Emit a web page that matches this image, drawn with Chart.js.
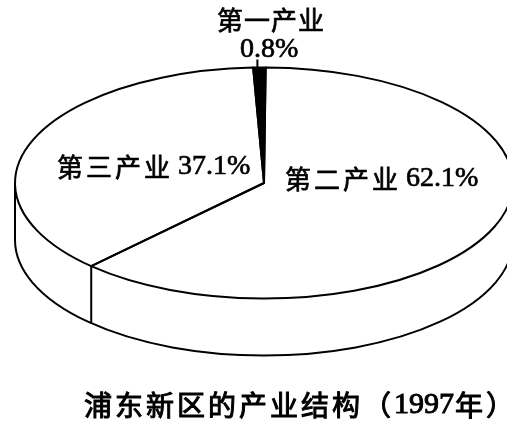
<!DOCTYPE html>
<html>
<head>
<meta charset="utf-8">
<script src="https://cdn.jsdelivr.net/npm/chart.js@4.4.1/dist/chart.umd.min.js"></script>
<style>
  html, body { margin: 0; background: #fff; }
  #wrap { width: 507px; height: 429px; }
</style>
</head>
<body>
<div id="wrap"><canvas id="c"></canvas></div>
<script>
const categories = ['第一产业', '第二产业', '第三产业'];
const shares = [0.8, 62.1, 37.1];
const sliceColors = ['#000', '#fff', '#fff'];
const chartTitle = ['浦东新区的产业结构（', '1997', '年）'];

const TILT = 0.464;  // how flat the disc looks
const DEPTH = 57;    // height of the side wall
const CJK_FONT = '26px "Noto Sans CJK SC"';
const NUM_FONT = '28px "Liberation Serif", "DejaVu Serif", serif';

// writes pieces of text one after another; a thin stroke thickens the glyphs
function writeRun(ctx, parts, x, y) {
  parts.forEach(([txt, font, spacing, lead]) => {
    x += lead || 0;
    ctx.font = font;
    ctx.letterSpacing = spacing + 'px';
    ctx.fillText(txt, x, y);
    ctx.strokeText(txt, x, y);
    x += ctx.measureText(txt).width;
  });
  return x;
}

// squash the pie into an ellipse and give it a side wall
const tiltPie = {
  id: 'tiltPie',
  beforeDatasetsDraw(chart) {
    const ctx = chart.ctx;
    const arcs = chart.getDatasetMeta(0).data;
    const {x, y, outerRadius: r} = arcs[0];
    const ry = r * TILT;

    ctx.save();
    ctx.lineWidth = 2;
    ctx.strokeStyle = '#000';
    ctx.fillStyle = '#fff';
    ctx.beginPath();
    ctx.moveTo(x - r, y);
    ctx.lineTo(x - r, y + DEPTH);
    ctx.ellipse(x, y + DEPTH, r, ry, 0, Math.PI, 0, true);
    ctx.lineTo(x + r, y);
    ctx.fill();
    ctx.stroke();
    // slice edges that face the viewer
    arcs.forEach(a => {
      if (Math.sin(a.endAngle) > 0) {
        const px = x + r * Math.cos(a.endAngle);
        const py = y + ry * Math.sin(a.endAngle);
        ctx.beginPath();
        ctx.moveTo(px, py);
        ctx.lineTo(px, py + DEPTH);
        ctx.stroke();
      }
    });
    ctx.restore();

    ctx.save();
    ctx.translate(0, y);
    ctx.scale(1, TILT);
    ctx.translate(0, -y);
  },
  afterDatasetsDraw(chart) {
    const ctx = chart.ctx;
    ctx.restore();
    const arcs = chart.getDatasetMeta(0).data;
    const {x, y, outerRadius: r} = arcs[0];
    const ry = r * TILT;

    ctx.save();
    ctx.lineWidth = 2;
    ctx.lineJoin = 'round';
    ctx.strokeStyle = '#000';
    arcs.forEach(a => {
      ctx.beginPath();
      ctx.moveTo(x, y);
      ctx.ellipse(x, y, r, ry, 0, a.startAngle, a.endAngle);
      ctx.closePath();
      ctx.stroke();
    });
    // little leader above the thin slice
    const mid = (arcs[0].startAngle + arcs[0].endAngle) / 2;
    const lx = x + r * Math.cos(mid) - 2;
    const ly = y + ry * Math.sin(mid);
    ctx.beginPath();
    ctx.moveTo(lx, ly);
    ctx.lineTo(lx, ly - 8);
    ctx.stroke();
    ctx.restore();
  },
  afterDraw(chart) {
    const ctx = chart.ctx;
    ctx.save();
    ctx.fillStyle = '#000';
    ctx.strokeStyle = '#000';
    ctx.lineWidth = 0.7;
    ctx.textBaseline = 'middle';
    ctx.textAlign = 'left';

    writeRun(ctx, [[categories[0], CJK_FONT, 1]], 217, 20);
    writeRun(ctx, [[shares[0] + '%', NUM_FONT, 0]], 240, 50);
    writeRun(ctx, [[categories[2], CJK_FONT, 3], [shares[2] + '%', NUM_FONT, 0, 5]], 57, 167);
    writeRun(ctx, [[categories[1], CJK_FONT, 3], [shares[1] + '%', NUM_FONT, 0, 5]], 285, 179);

    ctx.lineWidth = 1;
    writeRun(ctx, [
      [chartTitle[0], '28px "Noto Sans CJK SC"', 3],
      [chartTitle[1], '30px "Liberation Serif", "DejaVu Serif", serif', 0],
      [chartTitle[2], '28px "Noto Sans CJK SC"', 3, 1]
    ], 84, 405);
    ctx.restore();
  }
};

new Chart(document.getElementById('c'), {
  type: 'pie',
  data: {
    labels: categories,
    datasets: [{
      data: shares,
      backgroundColor: sliceColors,
      borderWidth: 0,
      radius: 249,
      rotation: -2.5,
      clip: false
    }]
  },
  options: {
    responsive: true,
    maintainAspectRatio: false,
    animation: false,
    events: [],
    layout: {padding: {left: 21, right: 0, top: 0, bottom: 63}},
    plugins: {
      legend: {display: false},
      tooltip: {enabled: false},
      title: {display: false}
    }
  },
  plugins: [tiltPie]
});
</script>
</body>
</html>
